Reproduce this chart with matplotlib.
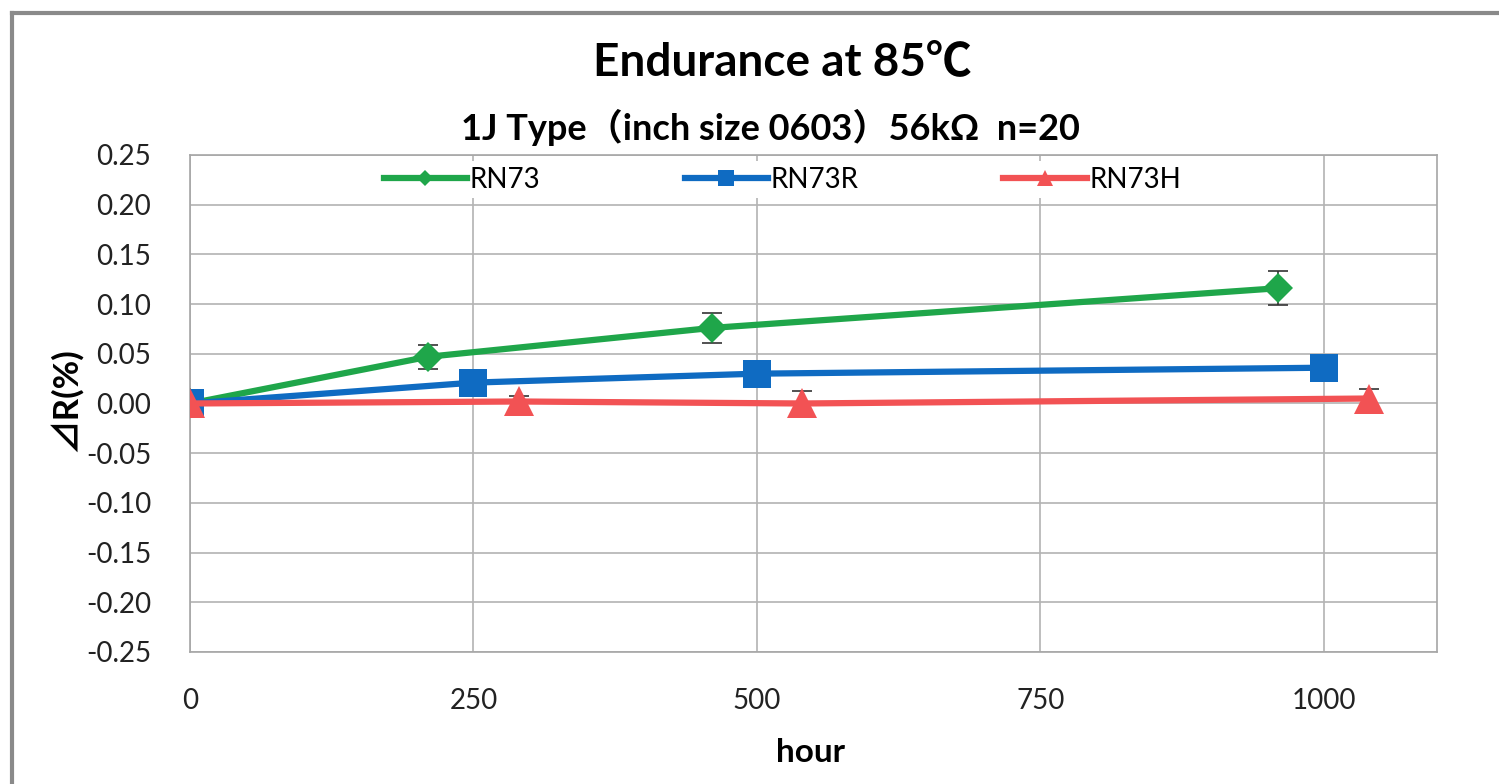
import matplotlib
matplotlib.use('agg')
import matplotlib.pyplot as plt
from matplotlib.lines import Line2D
from matplotlib.ticker import FormatStrFormatter

# данные
hours_rn73 = [0, 210, 460, 960]
dr_rn73 = [0.0, 0.047, 0.076, 0.116]
err_rn73 = [0.0, 0.012, 0.015, 0.017]

hours_rn73r = [0, 250, 500, 1000]
dr_rn73r = [0.0, 0.021, 0.030, 0.036]
err_rn73r = [0.0, 0.004, 0.005, 0.006]

hours_rn73h = [0, 290, 540, 1040]
dr_rn73h = [0.0, 0.002, 0.0, 0.005]
err_rn73h = [0.0, 0.006, 0.013, 0.010]

x_ticks = [0, 250, 500, 750, 1000]
y_ticks = [-0.25, -0.20, -0.15, -0.10, -0.05, 0.0, 0.05, 0.10, 0.15, 0.20, 0.25]

plt.rcParams['font.family'] = ['Lato', 'Noto Sans CJK JP', 'DejaVu Sans']
plt.rcParams['axes.unicode_minus'] = False

fig = plt.figure(figsize=(14.99, 7.84), dpi=100)
ax = fig.add_axes([0.1268, 0.1684, 0.8319, 0.6339])

series = [
    (hours_rn73, dr_rn73, err_rn73, '#1fa64a', 'D', 15, 'RN73'),
    (hours_rn73r, dr_rn73r, err_rn73r, '#0f6bc2', 's', 20, 'RN73R'),
    (hours_rn73h, dr_rn73h, err_rn73h, '#f25254', '^', 21, 'RN73H'),
]
handles = []
for i, (x, y, e, col, mk, ms, name) in enumerate(series):
    ax.errorbar(x, y, yerr=e, fmt='none', ecolor='#333333', elinewidth=1.2,
                capsize=7, capthick=1.2, zorder=3 + i * 2)
    ax.plot(x, y, color=col, lw=4.5, marker=mk, markersize=ms,
            markeredgewidth=0, zorder=4 + i * 2)
    handles.append(Line2D([], [], color=col, lw=4.5, marker=mk,
                          markersize=ms * 0.55, markeredgewidth=0, label=name))

ax.set_xlim(0, 1100)
ax.set_ylim(-0.25, 0.25)
ax.set_xticks(x_ticks)
ax.set_yticks(y_ticks)
ax.yaxis.set_major_formatter(FormatStrFormatter('%.2f'))
ax.tick_params(length=0, labelsize=20, colors='#222222')
ax.tick_params(axis='y', pad=28)
ax.tick_params(axis='x', pad=26)
ax.grid(True, color='#b3b3b3', lw=1.2)
ax.set_axisbelow(True)
for s in ax.spines.values():
    s.set_color('#a6a6a6')
    s.set_linewidth(1.2)

leg = ax.legend(handles=handles, loc='center', bbox_to_anchor=(0.475, 0.95),
                ncol=3, frameon=True, fontsize=20, handlelength=3.0,
                handletextpad=0.1, columnspacing=5.2, borderpad=0.2)
leg.get_frame().set_facecolor('white')
leg.get_frame().set_edgecolor('none')
leg.get_frame().set_alpha(1)
leg.set_zorder(20)

fig.text(0.522, 0.921, 'Endurance at 85℃', ha='center', va='center',
         fontsize=33, fontweight='bold')
fig.text(0.514, 0.838, '1J Type（inch size 0603）56kΩ  n=20', ha='center',
         va='center', fontsize=26, fontweight='bold')
fig.text(0.044, 0.49, '⊿R(%)', ha='center', va='center', rotation=90,
         fontsize=25, fontweight='bold')
fig.text(0.541, 0.04, 'hour', ha='center', va='center', fontsize=24,
         fontweight='bold')

# серая рамка вокруг картинки
fig.add_artist(Line2D([0.0077, 0.0077], [0.0, 0.984], color='#8a8a8a', lw=3,
                      transform=fig.transFigure))
fig.add_artist(Line2D([0.0077, 1.0], [0.984, 0.984], color='#8a8a8a', lw=3,
                      transform=fig.transFigure))

plt.savefig('out.png', dpi=100)
